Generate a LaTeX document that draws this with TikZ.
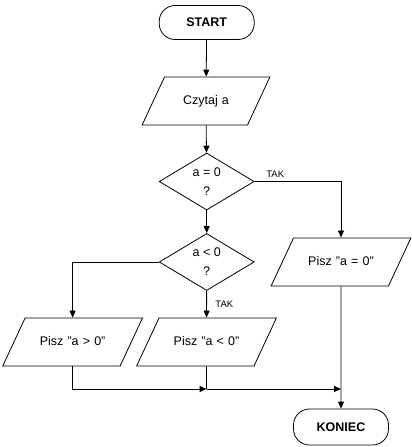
\documentclass[tikz,border=0pt]{standalone}
\usepackage{fontspec}
\setmainfont{Liberation Sans}
\usepackage{tikz}
\usetikzlibrary{shapes.geometric}
\usetikzlibrary{arrows.meta}

\begin{document}
\begin{tikzpicture}[x=1pt, y=1pt, line width=0.8pt,
    term/.style={draw, rounded corners=16pt, minimum width=95pt,
        minimum height=34pt, inner sep=0pt, font=\fontsize{12.5}{15}\selectfont\bfseries},
    io/.style={draw, trapezium, trapezium left angle=65, trapezium right angle=115,
        inner xsep=0pt, inner ysep=18pt, text width=95pt, align=center,
        text height=9pt, text depth=3pt, font=\fontsize{12.5}{15}\selectfont},
    cond/.style={draw, diamond, aspect=1.67, minimum width=95pt, minimum height=57pt,
        inner sep=0pt, align=center, font=\fontsize{12.5}{19}\selectfont},
    flow/.style={-{Triangle[length=7pt, width=6pt]}},
    tak/.style={font=\fontsize{9.5}{11}\selectfont}
    ]

    \useasboundingbox (0,0) rectangle (412,-447);

    % blocks
    \node[term] (start) at (206.7,-22.5) {START};

    \node[io, text width=83pt] (read) at (206,-101) {Czytaj a};

    \node[cond] (iszero) at (206.7,-181.5) {a = 0\\?};

    \node[cond] (isneg) at (206.7,-262) {a < 0\\?};

    \node[io] (outzero) at (341,-262) {Pisz "a = 0"};

    \node[io] (outpos) at (72.6,-342) {Pisz "a > 0"};

    \node[io] (outneg) at (206.5,-342) {Pisz "a < 0"};

    \node[term, minimum height=36pt] (stop) at (341,-427) {KONIEC};

    \coordinate (j1) at (206.5,-389);
    \coordinate (j2) at (341,-389);

    % connectors
    \draw[flow] (start) -- (read);
    \draw[flow] (read) -- (iszero);
    \draw[flow] (iszero.east) -| (outzero.north);
    \node[tak, anchor=south west] (tak1) at ([xshift=8pt]iszero.east) {TAK};
    \draw[flow] (iszero) -- (isneg);
    \draw[flow] (isneg.west) -| (outpos.north);
    \draw[flow] (isneg) -- (outneg);
    \node[tak, anchor=west] (tak2) at ([xshift=5pt, yshift=-13pt]isneg.south) {TAK};
    \draw[flow] (outpos.south) |- (j1);
    \draw (outneg.south) -- (j1);
    \draw[flow] (j1) -- (j2);
    \draw[flow] (outzero.south) -- (stop);

\end{tikzpicture}
\end{document}
